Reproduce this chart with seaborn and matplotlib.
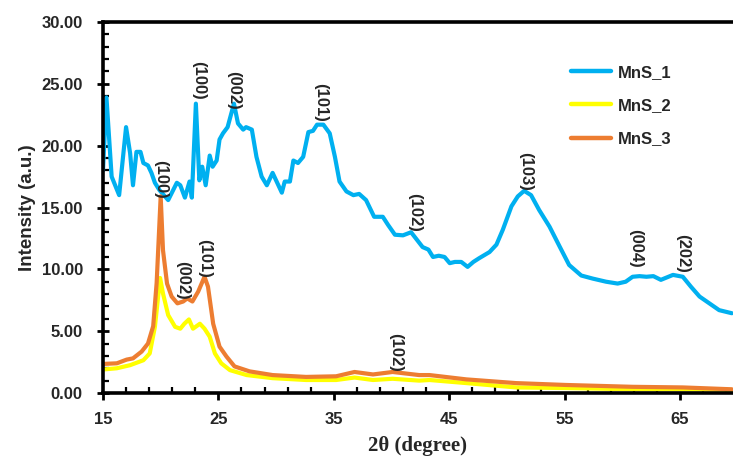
import pandas as pd
import matplotlib
matplotlib.use("Agg")
import matplotlib.pyplot as plt
from matplotlib.ticker import MultipleLocator, FormatStrFormatter
import seaborn as sns

# MnS_1 (blue)
MNS1_X = [15.0, 15.3, 15.75, 16.4, 17.0, 17.35, 17.6, 17.9, 18.25, 18.5, 18.9, 19.2,
          19.5, 19.9, 20.65, 21.4, 21.7, 22.1, 22.5, 22.7, 23.05, 23.35, 23.6, 23.9,
          24.25, 24.5, 24.85, 25.1, 25.4, 25.8, 26.35, 26.7, 27.15, 27.4, 27.9, 28.3,
          28.75, 29.2, 29.7, 30.0, 30.5, 30.75, 31.2, 31.5, 31.9, 32.35, 32.8, 33.2,
          33.55, 34.1, 34.65, 35.1, 35.5, 36.1, 36.7, 37.2, 37.8, 38.5, 39.25, 39.7,
          40.3, 41.0, 41.7, 42.7, 43.2, 43.6, 44.1, 44.6, 45.05, 45.5, 46.05, 46.6,
          47.1, 47.6, 48.5, 49.1, 49.65, 50.4, 50.95, 51.5, 52.1, 52.8, 53.7, 54.6,
          55.4, 56.45, 57.45, 58.6, 59.6, 60.3, 60.9, 61.5, 62.1, 62.7, 63.35, 64.4,
          65.25, 65.95, 66.7, 67.55, 68.4, 69.5]
MNS1_Y = [18.0, 23.9, 17.5, 16.0, 21.5, 19.4, 16.8, 19.5, 19.5, 18.6, 18.4, 17.8,
          17.0, 16.4, 15.6, 17.0, 16.8, 15.8, 17.1, 15.8, 23.4, 17.2, 18.3, 16.8,
          19.2, 18.3, 18.8, 20.5, 21.0, 21.5, 23.4, 21.8, 21.3, 21.5, 21.3, 19.1,
          17.5, 16.8, 17.8, 17.2, 16.2, 17.1, 17.1, 18.8, 18.6, 19.1, 21.1, 21.2,
          21.7, 21.7, 21.0, 19.1, 17.1, 16.3, 16.0, 16.1, 15.6, 14.25, 14.25, 13.6,
          12.8, 12.75, 13.0, 11.8, 11.6, 11.0, 11.1, 11.0, 10.5, 10.6, 10.6, 10.2,
          10.6, 10.9, 11.4, 12.0, 13.2, 15.1, 15.9, 16.35, 16.0, 14.8, 13.45, 11.8,
          10.35, 9.5, 9.25, 9.0, 8.85, 9.0, 9.4, 9.45, 9.4, 9.45, 9.15, 9.55,
          9.4, 8.6, 7.8, 7.25, 6.7, 6.45]

# MnS_2 (yellow)
MNS2_X = [15.0, 16.2, 17.35, 18.5, 19.05, 19.5, 19.95, 20.2, 20.65, 21.25, 21.7,
          22.05, 22.45, 22.8, 23.4, 23.8, 24.25, 24.7, 25.25, 26.0, 27.45, 29.7,
          32.6, 35.2, 36.8, 38.4, 40.1, 42.4, 43.3, 46.5, 50.8, 55.1, 60.9, 65.25, 69.5]
MNS2_Y = [1.9, 2.0, 2.25, 2.65, 3.2, 5.35, 9.3, 8.05, 6.3, 5.35, 5.2,
          5.6, 5.95, 5.2, 5.6, 5.2, 4.55, 3.2, 2.4, 1.85, 1.45, 1.2,
          1.05, 1.05, 1.25, 1.05, 1.15, 1.0, 1.05, 0.8, 0.45, 0.4, 0.3, 0.3, 0.25]

# MnS_3 (orange)
MNS3_X = [15.0, 16.2, 17.05, 17.6, 18.35, 18.9, 19.35, 19.65, 20.0, 20.2, 20.55,
          20.95, 21.45, 21.95, 22.3, 22.75, 23.25, 23.8, 24.1, 24.55, 25.1, 25.7,
          26.4, 27.7, 29.7, 32.6, 35.2, 36.8, 38.4, 40.1, 42.4, 43.3, 46.5, 50.8,
          55.1, 60.9, 65.25, 69.5]
MNS3_Y = [2.35, 2.4, 2.7, 2.8, 3.35, 4.0, 5.4, 8.9, 15.9, 11.55, 8.85,
          7.8, 7.25, 7.4, 7.65, 7.4, 8.2, 9.4, 8.6, 5.6, 3.75, 2.95,
          2.15, 1.75, 1.45, 1.3, 1.35, 1.7, 1.5, 1.7, 1.45, 1.45, 1.1, 0.8,
          0.65, 0.5, 0.45, 0.3]

SERIES = ["MnS_1", "MnS_2", "MnS_3"]
COLORS = ["#00B0F0", "#FFFF00", "#ED7D31"]

X_TICKS = [15, 25, 35, 45, 55, 65]

# peak labels: (text, x, y center)
PEAKS_1 = [("(100)", 23.3, 25.3), ("(002)", 26.35, 24.5), ("(101)", 33.9, 23.5),
           ("(102)", 42.0, 14.6), ("(103)", 51.6, 17.95), ("(004)", 61.2, 11.7),
           ("(202)", 65.25, 11.25)]
PEAKS_3 = [("(100)", 20.0, 17.3), ("(002)", 21.9, 9.1), ("(101)", 23.8, 10.9),
           ("(102)", 40.35, 3.3)]


def main():
    df = pd.concat([
        pd.DataFrame({"two_theta": MNS1_X, "intensity": MNS1_Y, "sample": "MnS_1"}),
        pd.DataFrame({"two_theta": MNS2_X, "intensity": MNS2_Y, "sample": "MnS_2"}),
        pd.DataFrame({"two_theta": MNS3_X, "intensity": MNS3_Y, "sample": "MnS_3"}),
    ], ignore_index=True)

    sns.set_style("ticks")
    plt.rcParams["font.family"] = ["Liberation Sans", "DejaVu Sans"]
    plt.rcParams["font.weight"] = "bold"

    fig = plt.figure(figsize=(7.33, 4.59), dpi=100)
    ax = fig.add_axes([0.1405, 0.1438, 0.8595, 0.8082])

    sns.lineplot(data=df, x="two_theta", y="intensity", hue="sample",
                 hue_order=SERIES, palette=COLORS, sort=False, estimator=None,
                 linewidth=3.0, ax=ax)

    ax.set_xlim(15, 69.6)
    ax.set_ylim(0, 30)
    ax.set_xticks(X_TICKS)
    ax.set_xticks([x for x in range(17, 70, 2)], minor=True)
    ax.yaxis.set_major_locator(MultipleLocator(5))
    ax.yaxis.set_minor_locator(MultipleLocator(1))
    ax.yaxis.set_major_formatter(FormatStrFormatter("%.2f"))
    ax.tick_params(axis="x", which="major", direction="out", length=5, width=2,
                   labelsize=12, pad=9, color="black")
    ax.tick_params(axis="y", which="major", direction="inout", length=9, width=2,
                   labelsize=12, pad=10, color="black")
    ax.tick_params(which="minor", direction="in", length=4, width=1.6, color="black")
    for lab in ax.get_xticklabels() + ax.get_yticklabels():
        lab.set_fontweight("bold")

    for side in ["left", "bottom", "top"]:
        ax.spines[side].set_linewidth(2.6)
        ax.spines[side].set_color("black")
    ax.spines["right"].set_visible(False)

    ax.set_xlabel("2θ (degree)", fontsize=15, fontweight="bold",
                  family=["Liberation Serif", "DejaVu Serif"], labelpad=6)
    ax.set_ylabel("Intensity (a.u.)", fontsize=13.5, fontweight="bold", labelpad=4)

    for txt, x, y in PEAKS_1 + PEAKS_3:
        ax.text(x, y, txt, rotation=270, ha="center", va="center",
                fontsize=12, fontweight="bold")

    leg = ax.legend(loc="upper left", bbox_to_anchor=(0.733, 0.903), frameon=False,
                    borderaxespad=0, fontsize=12, labelspacing=1.1,
                    handlelength=2.4, handletextpad=0.36)
    for line in leg.get_lines():
        line.set_linewidth(3.2)
    for t in leg.get_texts():
        t.set_fontweight("bold")

    fig.savefig("out.png", dpi=100)
    plt.close(fig)


if __name__ == "__main__":
    main()
